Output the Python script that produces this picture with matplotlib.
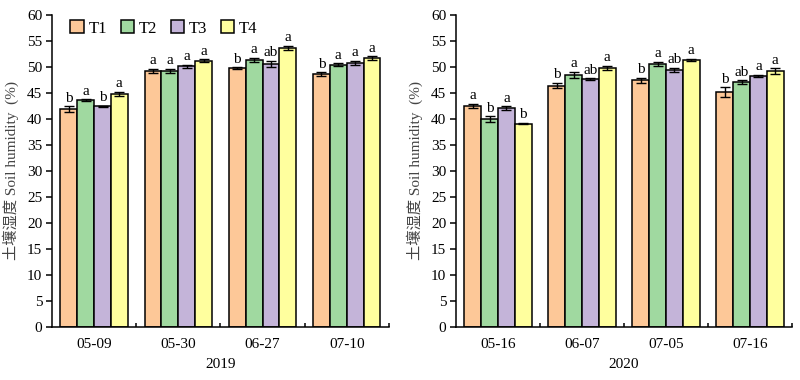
import numpy as np
import matplotlib
matplotlib.use("Agg")
import matplotlib.pyplot as plt
from matplotlib.ticker import FixedLocator

plt.rcParams["font.family"] = ["Liberation Serif", "Noto Sans CJK SC"]
plt.rcParams["font.size"] = 11

treatments = ["T1", "T2", "T3", "T4"]
colors = ["#FDC898", "#A0D9A0", "#C4B4D9", "#FFFF9E"]

# 2019
dates_2019 = ["05-09", "05-30", "06-27", "07-10"]
means_2019 = [
    [41.9, 49.2, 49.7, 48.6],   # T1
    [43.6, 49.2, 51.3, 50.4],   # T2
    [42.4, 50.1, 50.6, 50.8],   # T3
    [44.8, 51.2, 53.6, 51.7],   # T4
]
err_2019 = [
    [0.5, 0.4, 0.2, 0.4],
    [0.2, 0.4, 0.4, 0.3],
    [0.15, 0.3, 0.6, 0.4],
    [0.4, 0.3, 0.4, 0.3],
]
letters_2019 = [
    ["b", "a", "b", "b"],
    ["a", "a", "a", "a"],
    ["b", "a", "ab", "a"],
    ["a", "a", "a", "a"],
]

# 2020
dates_2020 = ["05-16", "06-07", "07-05", "07-16"]
means_2020 = [
    [42.5, 46.4, 47.4, 45.2],
    [40.0, 48.5, 50.6, 47.1],
    [42.1, 47.6, 49.4, 48.3],
    [39.1, 49.8, 51.4, 49.2],
]
err_2020 = [
    [0.4, 0.5, 0.5, 0.9],
    [0.5, 0.6, 0.4, 0.3],
    [0.3, 0.2, 0.4, 0.2],
    [0.15, 0.4, 0.2, 0.5],
]
letters_2020 = [
    ["a", "b", "b", "b"],
    ["b", "a", "a", "ab"],
    ["a", "ab", "ab", "a"],
    ["b", "a", "a", "a"],
]

fig = plt.figure(figsize=(8, 3.8), dpi=100)
ax1 = fig.add_axes([0.065, 0.139, 0.421, 0.822])
ax2 = fig.add_axes([0.570, 0.139, 0.420, 0.822])


def draw(ax, dates, means, errs, letters, year, legend):
    x = np.arange(len(dates))
    w = 0.2
    for i in range(4):
        xi = x + (i - 1.5) * w
        ax.bar(xi, means[i], w, color=colors[i], edgecolor="black",
               linewidth=1.1, label=treatments[i], zorder=2)
        ax.errorbar(xi, means[i], yerr=errs[i], fmt="none", ecolor="black",
                    elinewidth=1.0, capsize=3.3, capthick=1.0, zorder=3)
        for xx, m, e, t in zip(xi, means[i], errs[i], letters[i]):
            ax.text(xx, m + e + 0.3, t, ha="center", va="bottom", fontsize=11)
    ax.set_xlim(-0.5, len(dates) - 0.5)
    ax.set_ylim(0, 60)
    ax.set_yticks(np.arange(0, 61, 5))
    ax.set_xticks(x)
    ax.set_xticklabels(dates)
    ax.tick_params(axis="x", which="major", length=0, pad=8)
    ax.xaxis.set_minor_locator(FixedLocator(np.arange(0.5, len(dates), 1.0)))
    ax.tick_params(axis="x", which="minor", direction="in", length=3, width=1.1)
    ax.tick_params(axis="y", direction="out", length=4, width=1.1, pad=3)
    ax.spines["top"].set_visible(False)
    ax.spines["right"].set_visible(False)
    ax.spines["left"].set_linewidth(1.1)
    ax.spines["bottom"].set_linewidth(1.1)
    ax.set_xlabel(year, labelpad=5)
    ax.set_ylabel("土壤湿度 Soil humidity  (%)", color="#444444", labelpad=6)
    if legend:
        ax.legend(loc="upper left", ncol=4, frameon=False, handlelength=0.8,
                  handleheight=0.8, handletextpad=0.3, columnspacing=0.8,
                  bbox_to_anchor=(0.01, 1.03), fontsize=12)


draw(ax1, dates_2019, means_2019, err_2019, letters_2019, "2019", True)
draw(ax2, dates_2020, means_2020, err_2020, letters_2020, "2020", False)

fig.savefig("out.png", dpi=100)
